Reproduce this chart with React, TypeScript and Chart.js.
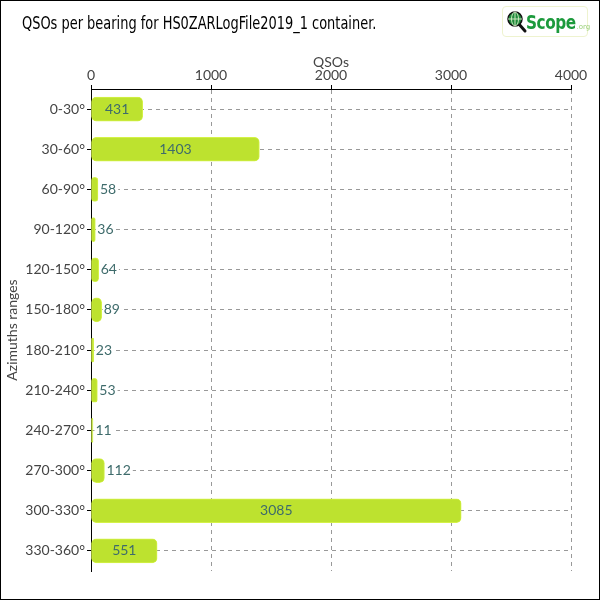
import React, { useEffect, useRef } from "react";
import { Chart, registerables } from "chart.js";

Chart.register(...registerables);

const categories = ["0-30°", "30-60°", "60-90°", "90-120°", "120-150°", "150-180°", "180-210°", "210-240°", "240-270°", "270-300°", "300-330°", "330-360°"];
const qsoCounts = [431, 1403, 58, 36, 64, 89, 23, 53, 11, 112, 3085, 551];
const xTicks = [0, 1000, 2000, 3000, 4000];
const titleText = "QSOs per bearing for HS0ZARLogFile2019_1 container.";
const xTitle = "QSOs";
const yTitle = "Azimuths ranges";

const FONT = "Lato, 'DejaVu Sans', sans-serif";

const labelPlugin = {
  id: "barValueLabels",
  afterDatasetsDraw(chart: any) {
    const ctx = chart.ctx;
    const meta = chart.getDatasetMeta(0);
    ctx.save();
    ctx.font = `14px ${FONT}`;
    ctx.textBaseline = "middle";
    meta.data.forEach((bar: any, i: number) => {
      const text = String(qsoCounts[i]);
      const w = ctx.measureText(text).width;
      const barW = bar.x - bar.base;
      let x: number;
      if (barW > w + 10) {
        x = bar.base + barW / 2 - w / 2;
        ctx.fillStyle = "#3e6b6b";
        ctx.fillText(text, x, bar.y);
      } else {
        x = Math.max(bar.x, bar.base + 2) + 2;
        ctx.fillStyle = "#ffffff";
        ctx.fillRect(x - 1, bar.y - 8, w + 3, 16);
        ctx.fillStyle = "#3e6b6b";
        ctx.fillText(text, x, bar.y);
      }
    });
    ctx.restore();
  },
};

function Logo() {
  return (
    <div
      style={{
        position: "absolute",
        left: 501,
        top: 5,
        width: 86,
        height: 31,
        border: "1px solid #eef3cf",
        borderRadius: 4,
        background: "#fff",
        display: "flex",
        alignItems: "center",
        boxSizing: "border-box",
        paddingLeft: 3,
      }}
    >
      <svg width="22" height="26" viewBox="0 0 22 26" style={{ flexShrink: 0, display: "block" }}>
        <line x1="12" y1="14" x2="19" y2="22" stroke="#111" strokeWidth="3" strokeLinecap="round" />
        <circle cx="9" cy="10" r="7" fill="#1f8a3a" stroke="#111" strokeWidth="1.5" />
        <line x1="9" y1="3" x2="9" y2="17" stroke="#cfe8c0" strokeWidth="1" />
        <line x1="2" y1="10" x2="16" y2="10" stroke="#cfe8c0" strokeWidth="1" />
        <ellipse cx="9" cy="10" rx="3.5" ry="7" fill="none" stroke="#cfe8c0" strokeWidth="1" />
      </svg>
      <span style={{ fontFamily: "'DejaVu Sans Condensed', 'DejaVu Sans', sans-serif", fontWeight: "bold", fontSize: 20, color: "#1c9a3c", letterSpacing: -0.5, display: "inline-block", transform: "scaleX(0.85)", transformOrigin: "left center", marginLeft: -2 }}>Scope</span>
      <span style={{ fontFamily: "'DejaVu Sans', sans-serif", fontSize: 7, color: "#9bd07a", marginTop: 10, marginLeft: -8 }}>.org</span>
    </div>
  );
}

export default function App() {
  const ref = useRef<HTMLCanvasElement>(null);
  useEffect(() => {
    document.body.style.margin = "0";
    const chart = new Chart(ref.current!, {
      type: "bar",
      data: {
        labels: categories,
        datasets: [
          {
            data: qsoCounts,
            backgroundColor: "#bde22f",
            borderColor: "#d4f247",
            borderWidth: 1,
            borderRadius: 5,
            borderSkipped: false,
            barThickness: 24,
            minBarLength: 2,
          },
        ],
      },
      options: {
        indexAxis: "y",
        animation: false,
        responsive: false,
        layout: { padding: { left: 4, right: 29, top: 40, bottom: 29 } },
        plugins: { legend: { display: false }, tooltip: { enabled: false }, title: { display: false } },
        scales: {
          x: {
            position: "top",
            min: 0,
            max: 4000,
            afterBuildTicks: (s: any) => {
              s.ticks = xTicks.map((v) => ({ value: v }));
            },
            afterFit: (s: any) => {
              s.height = 49;
            },
            ticks: { color: "#444", font: { family: FONT, size: 14 }, padding: 1, callback: (v: any) => String(v) },
            grid: { color: "#999", tickColor: "#000", tickLength: 4, drawTicks: true },
            border: { display: true, color: "#000", dash: [4, 4] },
            title: { display: true, text: xTitle, color: "#444", font: { family: FONT, size: 14 }, padding: { top: 14, bottom: 0 } },
          },
          y: {
            afterFit: (s: any) => {
              s.width = 87;
            },
            ticks: { color: "#444", font: { family: FONT, size: 14 }, padding: 2 },
            grid: { color: "#999", tickColor: "#000", tickLength: 4, offset: false },
            border: { display: true, color: "#000", dash: [4, 4] },
            title: { display: true, text: yTitle, color: "#444", font: { family: FONT, size: 14 }, padding: { top: 0, bottom: 4 } },
          },
        },
      },
      plugins: [labelPlugin],
    } as any);
    return () => chart.destroy();
  }, []);

  return (
    <div style={{ position: "absolute", left: 0, top: 0, width: 600, height: 600, border: "1px solid #000", boxSizing: "border-box", background: "#fff", overflow: "hidden" }}>
      <canvas ref={ref} width={600} height={600} style={{ position: "absolute", left: -1, top: -1 }} />
      <div style={{ position: "absolute", left: 21, top: 11, fontFamily: "'DejaVu Sans Condensed', 'DejaVu Sans', sans-serif", fontSize: 18, color: "#000", whiteSpace: "nowrap", transform: "scaleX(0.8)", transformOrigin: "left top" }}>{titleText}</div>
      <Logo />
    </div>
  );
}
